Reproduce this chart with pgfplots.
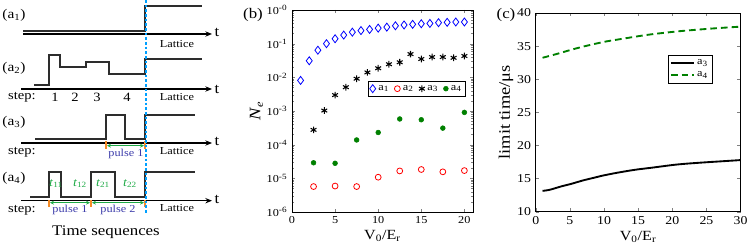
\documentclass[border=0pt]{standalone}
\usepackage{pgfplots}
\pgfplotsset{compat=1.18}
\usepackage{fontspec}
\setmainfont{Liberation Serif}[FakeStretch=1.15]
\usetikzlibrary{arrows.meta}
\definecolor{sig}{RGB}{45,45,45}
\definecolor{vblue}{RGB}{0,160,255}
\definecolor{orng}{RGB}{245,140,40}
\definecolor{grn}{RGB}{30,170,70}
\definecolor{pblue}{RGB}{60,60,170}
\definecolor{mgreen}{RGB}{0,128,0}
\newcommand{\fs}[1]{\fontsize{#1}{#1}\selectfont}
\begin{document}
\begin{tikzpicture}
\useasboundingbox (0,0) rectangle (560.25pt,184.5pt);
% ---------------- panel (a) ----------------
\begin{axis}[at={(0pt,0pt)},anchor=south west, scale only axis, width=560.25pt, height=184.5pt,
  xmin=0,xmax=747,ymin=0,ymax=246,y dir=reverse, hide axis, clip=false]
% a1
\addplot[sig, line width=1pt] coordinates {(23,31) (145,31) (145,6) (202,6)};
\addplot[black, line width=0.8pt, -{Stealth[length=5pt,width=4pt]}] coordinates {(23,34) (212,34)};
% a2
\addplot[sig, line width=1pt] coordinates {(34,85) (49,85) (49,55) (60,55) (60,67) (86,67) (86,62) (109,62) (109,74) (145,74) (145,59) (202,59)};
\addplot[black, line width=0.8pt, -{Stealth[length=5pt,width=4pt]}] coordinates {(21,89) (212,89)};
% a3
\addplot[sig, line width=1pt] coordinates {(35,139) (106,139) (106,115) (125,115) (125,139) (145,139) (145,115) (195,115)};
\addplot[black, line width=0.8pt, -{Stealth[length=5pt,width=4pt]}] coordinates {(21,143) (212,143)};
\addplot[orng, line width=0.9pt] coordinates {(106,141) (106,149)};
\addplot[orng, line width=0.9pt] coordinates {(145,141) (145,149)};
\addplot[grn, line width=0.8pt, {Stealth[length=3pt,width=3pt]}-{Stealth[length=3pt,width=3pt]}] coordinates {(107,145.7) (144,145.7)};
% a4
\addplot[sig, line width=1pt] coordinates {(30,197) (49,197) (49,172) (61,172) (61,197) (91,197) (91,172) (115,172) (115,197) (145,197) (145,172) (195,172)};
\addplot[black, line width=0.8pt, -{Stealth[length=5pt,width=4pt]}] coordinates {(21,200.7) (212,200.7)};
\addplot[orng, line width=0.9pt] coordinates {(49,200) (49,207)};
\addplot[orng, line width=0.9pt] coordinates {(91,200) (91,207)};
\addplot[orng, line width=0.9pt] coordinates {(145,200) (145,207)};
\addplot[grn, line width=0.8pt, {Stealth[length=3pt,width=3pt]}-{Stealth[length=3pt,width=3pt]}] coordinates {(50,202.7) (90,202.7)};
\addplot[grn, line width=0.8pt, {Stealth[length=3pt,width=3pt]}-{Stealth[length=3pt,width=3pt]}] coordinates {(92,202.7) (144,202.7)};
% vertical dashed marker line (on top)
\addplot[color=vblue, line width=0.9pt, dash pattern=on 2pt off 1.5pt] coordinates {(146,0) (146,213)};
% texts
\node[font=\fs{10}] at (axis cs:14,15) {(a\textsubscript{1})};
\node[font=\fs{10}] at (axis cs:14,68) {(a\textsubscript{2})};
\node[font=\fs{10}] at (axis cs:14,122) {(a\textsubscript{3})};
\node[font=\fs{10}] at (axis cs:14,178) {(a\textsubscript{4})};
\node[font=\fs{11}] at (axis cs:217,32.5) {t};
\node[font=\fs{11}] at (axis cs:217,89) {t};
\node[font=\fs{11}] at (axis cs:217,141.7) {t};
\node[font=\fs{11}] at (axis cs:217,199.3) {t};
\node[font=\fs{8}] at (axis cs:177,43.7) {Lattice};
\node[font=\fs{8}] at (axis cs:177,96.7) {Lattice};
\node[font=\fs{8}] at (axis cs:177,150.7) {Lattice};
\node[font=\fs{8}] at (axis cs:177,208.3) {Lattice};
\node[font=\fs{9.5}] at (axis cs:22,97.3) {step:};
\node[font=\fs{9.5}] at (axis cs:22,152) {step:};
\node[font=\fs{9.5}] at (axis cs:22,210) {step:};
\node[font=\fs{9.5}] at (axis cs:55,97.3) {1};
\node[font=\fs{9.5}] at (axis cs:75,97.3) {2};
\node[font=\fs{9.5}] at (axis cs:97,97.3) {3};
\node[font=\fs{9.5}] at (axis cs:127,97.3) {4};
\node[font=\fs{8}, text=pblue] at (axis cs:126,154) {pulse 1};
\node[font=\fs{8}, text=pblue] at (axis cs:70,210) {pulse 1};
\node[font=\fs{8}, text=pblue] at (axis cs:118,210) {pulse 2};
\node[font=\fs{9}, text=grn] at (axis cs:56,183.3) {\textit{t}\textsubscript{11}};
\node[font=\fs{9}, text=grn] at (axis cs:80,183.3) {\textit{t}\textsubscript{12}};
\node[font=\fs{9}, text=grn] at (axis cs:103,183.3) {\textit{t}\textsubscript{21}};
\node[font=\fs{9}, text=grn] at (axis cs:130,183.3) {\textit{t}\textsubscript{22}};
\node[font=\fs{11}] at (axis cs:106,232) {Time sequences};
\node[font=\fs{11}] at (axis cs:253,15) {(b)};
\node[font=\fs{11}] at (axis cs:506,15) {(c)};
\end{axis}
% ---------------- panel (b) ----------------
\begin{axis}[at={(219pt,25.5pt)}, anchor=south west, scale only axis, width=135.75pt, height=151.5pt,
  ymode=log, xmin=0, xmax=21, ymin=1e-6, ymax=1,
  xtick={0,5,10,15,20}, ytick={1e-6,1e-5,1e-4,1e-3,1e-2,1e-1,1},
  yticklabels={10\textsuperscript{-6},10\textsuperscript{-5},10\textsuperscript{-4},10\textsuperscript{-3},10\textsuperscript{-2},10\textsuperscript{-1},10\textsuperscript{-0}},
  /pgf/number format/assume math mode=true,
  tick align=inside, major tick length=2.5pt, minor tick length=1.4pt,
  tick label style={font=\fs{8}}, axis line style={line width=0.6pt},
  xlabel={V\textsubscript{0}/E\textsubscript{r}}, xlabel style={font=\fs{10.5}, yshift=2pt},
  ylabel={\textit{N\textsubscript{e}}}, ylabel style={font=\fs{12}, yshift=-4pt},
  legend columns=4,
  legend style={at={(0.961,0.649)}, anchor=north east, font=\fs{8}, draw=black, inner sep=1pt,
    /tikz/every even column/.append style={column sep=2pt}},
  legend cell align=left]
\addplot[only marks, mark=diamond, mark size=3pt, blue, mark options={line width=0.6pt}] coordinates {
(1,0.0081) (2,0.031) (3,0.064) (4,0.10) (5,0.14) (6,0.18) (7,0.22) (8,0.245) (9,0.265) (10,0.29)
(11,0.31) (12,0.34) (13,0.36) (14,0.375) (15,0.39) (16,0.40) (17,0.42) (18,0.43) (19,0.44) (20,0.44)};
\addlegendentry{a\textsubscript{1}}
\addplot[only marks, mark=o, mark size=2.2pt, red, mark options={line width=0.6pt}] coordinates {
(2.5,5.7e-6) (5,5.9e-6) (7.5,5.7e-6) (10,1.08e-5) (12.5,1.66e-5) (15,1.83e-5) (17.5,1.56e-5) (20,1.7e-5)};
\addlegendentry{a\textsubscript{2}}
\addplot[only marks, mark=asterisk, mark size=2.5pt, black, mark options={line width=0.8pt}] coordinates {
(2.5,2.75e-4) (3.75,1.03e-3) (5,2.97e-3) (6.25,5.1e-3) (7.5,9.1e-3) (8.75,0.014) (10,0.0186) (11.25,0.0245)
(12.5,0.028) (13.75,0.049) (15,0.035) (16.25,0.040) (17.5,0.040) (18.75,0.038) (20,0.043)};
\addlegendentry{a\textsubscript{3}}
\addplot[only marks, mark=*, mark size=1.8pt, mgreen] coordinates {
(2.5,2.9e-5) (5,2.8e-5) (7.5,1.38e-4) (10,2.3e-4) (12.5,5.8e-4) (15,5.5e-4) (17.5,3.1e-4) (20,9.1e-4)};
\addlegendentry{a\textsubscript{4}}
\end{axis}
% ---------------- panel (c) ----------------
\begin{axis}[at={(401.8pt,25.7pt)}, anchor=south west, scale only axis, width=153.6pt, height=149pt,
  xmin=0, xmax=30, ymin=10, ymax=40, xtick={0,5,...,30}, ytick={10,15,...,40},
  /pgf/number format/assume math mode=true,
  tick align=inside, major tick length=2.5pt,
  tick label style={font=\fs{9}}, axis line style={line width=0.6pt},
  xlabel={V\textsubscript{0}/E\textsubscript{r}}, xlabel style={font=\fs{10.5}, yshift=2pt},
  ylabel={limit time/μs}, ylabel style={font=\fs{12}, yshift=-4pt},
  legend style={at={(0.865,0.791)}, anchor=north east, font=\fs{8}, draw=black, inner sep=1.5pt},
  legend cell align=left]
\addplot[black, line width=1.4pt, smooth] coordinates {
(1,13.15) (2,13.3) (3,13.6) (4,13.9) (5,14.15) (6,14.45) (7,14.75) (8,15.0) (9,15.25) (10,15.5)
(12,15.9) (14,16.25) (15,16.4) (17,16.65) (20,17.05) (22,17.25) (25,17.47) (27,17.6) (30,17.8)};
\addlegendentry{a\textsubscript{3}}
\addplot[mgreen, line width=1.4pt, dash pattern=on 5pt off 3pt, smooth] coordinates {
(1,33.25) (3,33.8) (5,34.4) (7,34.95) (10,35.65) (12,36.0) (15,36.5) (17,36.8) (20,37.15) (22,37.35) (25,37.6) (27,37.75) (30,37.95)};
\addlegendentry{a\textsubscript{4}}
\end{axis}
\end{tikzpicture}
\end{document}
